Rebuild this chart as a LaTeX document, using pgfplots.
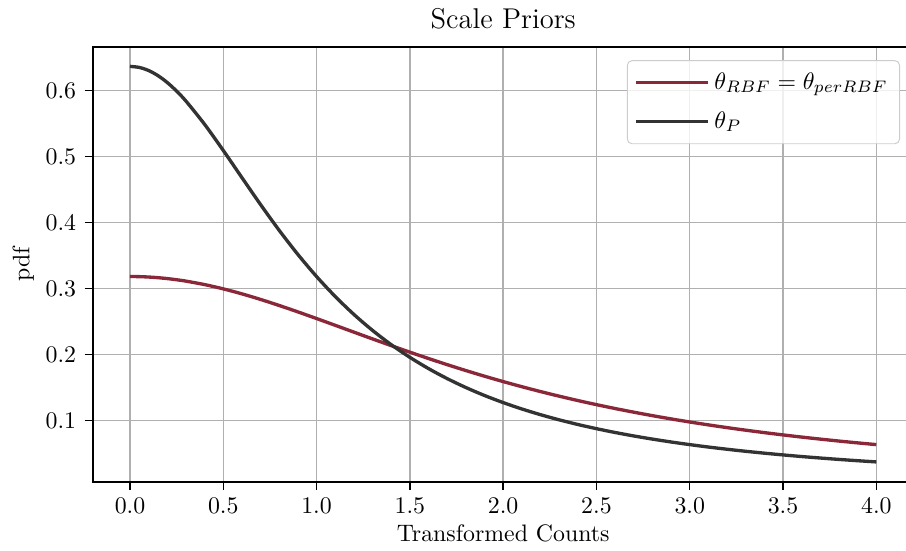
\documentclass[border=0pt]{standalone}
\usepackage{pgfplots}
\pgfplotsset{compat=1.18}
\usepackage{pgfplotstable}

\definecolor{priorred}{RGB}{138,39,56}
\definecolor{priorblack}{RGB}{51,51,51}
\definecolor{gridgray}{RGB}{176,176,176}

% half-Cauchy pdfs, values typed in: x, scale 2 (RBF), scale 1 (P)
\pgfplotstableread{
x     rbf      p
0.0   0.31831  0.63662
0.05  0.31811  0.63503
0.1   0.31752  0.63032
0.15  0.31653  0.62261
0.2   0.31516  0.61213
0.25  0.31341  0.59917
0.3   0.31131  0.58406
0.4   0.30607  0.54881
0.5   0.29959  0.50930
0.6   0.29203  0.46810
0.7   0.28357  0.42726
0.8   0.27441  0.38818
0.9   0.26471  0.35172
1.0   0.25465  0.31831
1.1   0.24438  0.28806
1.2   0.23405  0.26091
1.3   0.22377  0.23666
1.4   0.21363  0.21507
1.5   0.20372  0.19588
1.6   0.19409  0.17883
1.7   0.18480  0.16366
1.8   0.17586  0.15015
1.9   0.16731  0.13810
2.0   0.15915  0.12732
2.1   0.15140  0.11768
2.2   0.14403  0.10901
2.3   0.13706  0.10121
2.4   0.13045  0.09418
2.5   0.12422  0.08781
2.6   0.11833  0.08204
2.7   0.11278  0.07679
2.8   0.10754  0.07202
2.9   0.10260  0.06765
3.0   0.09794  0.06366
3.1   0.09355  0.06000
3.2   0.08941  0.05664
3.3   0.08551  0.05354
3.4   0.08183  0.05069
3.5   0.07835  0.04805
3.6   0.07507  0.04560
3.7   0.07198  0.04334
3.8   0.06905  0.04123
3.9   0.06628  0.03927
4.0   0.06366  0.03745
}\priors

\begin{document}
\begin{tikzpicture}
\begin{axis}[
    scale only axis,
    width=344.7pt, height=182.7pt,
    xmin=-0.2, xmax=4.2,
    ymin=0.0074, ymax=0.6666,
    xtick={0,0.5,...,4},
    ytick={0.1,0.2,...,0.6},
    xticklabel style={/pgf/number format/.cd, fixed, fixed zerofill, precision=1},
    yticklabel style={/pgf/number format/.cd, fixed, fixed zerofill, precision=1},
    tick align=outside,
    xtick pos=lower, ytick pos=left,
    major tick length=3.4pt,
    tick style={black, line width=0.6pt},
    axis line style={line width=0.8pt},
    grid=major,
    major grid style={gridgray, line width=0.6pt},
    title={Scale Priors},
    title style={font=\large, yshift=-2pt},
    xlabel={Transformed Counts},
    ylabel={pdf},
    xlabel style={yshift=2pt},
    ylabel style={yshift=-2pt},
    legend cell align=left,
    legend style={at={(rel axis cs:1,1)}, anchor=north east, xshift=-5.7pt, yshift=-5.7pt,
        draw=black!20, rounded corners=2pt, fill=white, fill opacity=0.8, text opacity=1,
        inner sep=3pt, row sep=4pt, font=\normalsize},
    legend image code/.code={
        \path (-0.08cm,0cm) -- (0.98cm,0cm);
        \draw[#1] (0cm,0cm) -- (0.78cm,0cm);},
]
\addplot[priorred, line width=1.4pt, smooth] table[x=x, y=rbf] {\priors};
\addlegendentry{$\theta_{RBF} = \theta_{perRBF}$}
\addplot[priorblack, line width=1.4pt, smooth] table[x=x, y=p] {\priors};
\addlegendentry{$\theta_{P}$}
\coordinate (R) at (rel axis cs:0.9907,1);
\end{axis}
\pgfresetboundingbox
\useasboundingbox ([xshift=-2pt]current axis.outer south west) rectangle (R |- current axis.outer north east);
\end{tikzpicture}
\end{document}
